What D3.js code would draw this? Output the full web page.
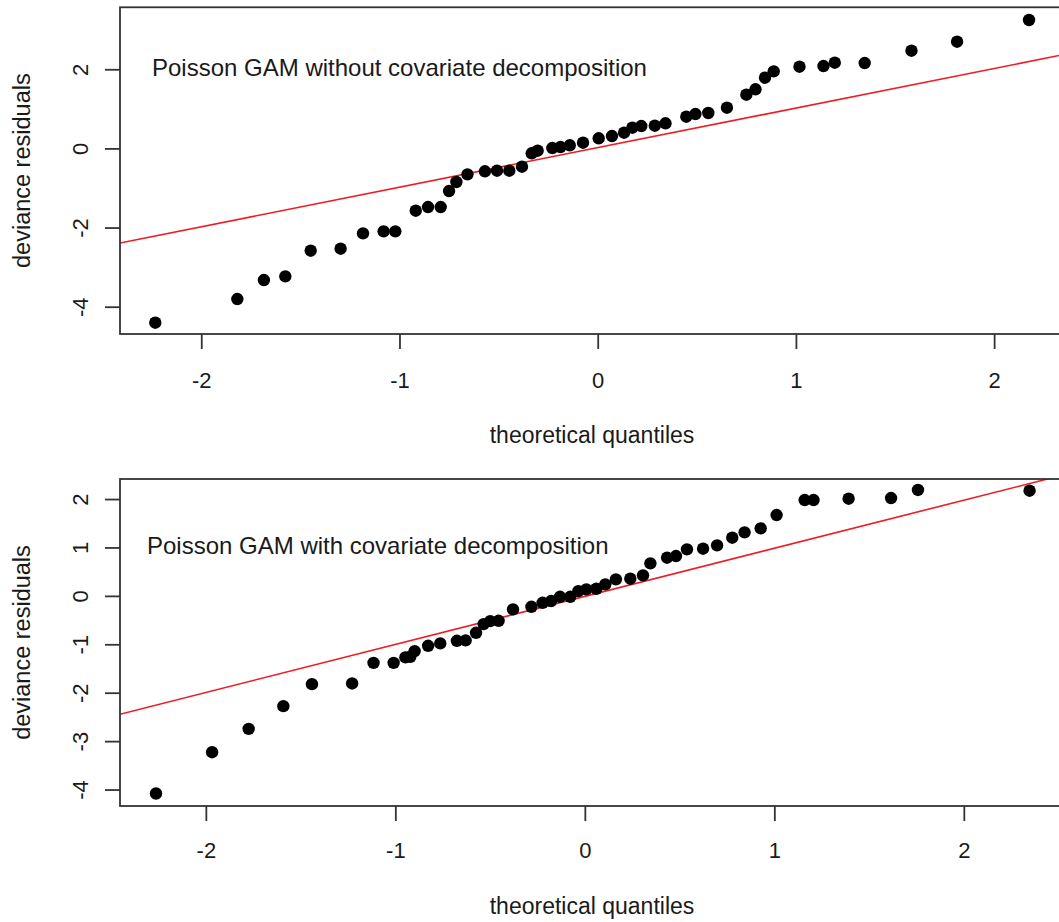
<!DOCTYPE html>
<html>
<head>
<meta charset="utf-8">
<script src="https://cdn.jsdelivr.net/npm/d3@7"></script>
<style>
  html, body { margin: 0; padding: 0; background: #fff; }
  svg { display: block; }
  text { font-family: "Liberation Sans", Arial, Helvetica, sans-serif; fill: #1a1a1a; }
</style>
</head>
<body>
<svg id="chart" width="1059" height="922"></svg>
<script>
// Normal Q-Q plots of deviance residuals for two Poisson GAM fits.

// Panel 1: without covariate decomposition
const topTheoretical = [
  -2.232, -1.818, -1.684, -1.576, -1.448, -1.297, -1.184, -1.080, -1.021, -0.918,
  -0.856, -0.792, -0.750, -0.713, -0.657, -0.569, -0.508, -0.446, -0.382, -0.333,
  -0.303, -0.229, -0.188, -0.141, -0.074, 0.005, 0.072, 0.133, 0.175, 0.220,
  0.288, 0.342, 0.447, 0.493, 0.558, 0.652, 0.750, 0.796, 0.844, 0.888,
  1.018, 1.139, 1.196, 1.347, 1.583, 1.813, 2.176
];
const topResiduals = [
  -4.405, -3.806, -3.326, -3.233, -2.585, -2.534, -2.146, -2.096, -2.096, -1.574,
  -1.481, -1.481, -1.077, -0.849, -0.655, -0.579, -0.564, -0.564, -0.462, -0.124,
  -0.058, 0.010, 0.035, 0.078, 0.144, 0.255, 0.313, 0.397, 0.523, 0.566,
  0.574, 0.634, 0.801, 0.869, 0.895, 1.029, 1.357, 1.494, 1.787, 1.948,
  2.065, 2.082, 2.166, 2.158, 2.469, 2.697, 3.245
];

// Panel 2: with covariate decomposition
const bottomTheoretical = [
  -2.263, -1.967, -1.774, -1.591, -1.440, -1.228, -1.115, -1.009, -0.947, -0.921,
  -0.898, -0.827, -0.763, -0.675, -0.629, -0.574, -0.534, -0.499, -0.455, -0.379,
  -0.282, -0.223, -0.178, -0.131, -0.077, -0.034, 0.008, 0.061, 0.108, 0.164,
  0.240, 0.307, 0.346, 0.434, 0.481, 0.539, 0.624, 0.698, 0.778, 0.843,
  0.928, 1.012, 1.160, 1.207, 1.392, 1.616, 1.758, 2.347
];
const bottomResiduals = [
  -4.082, -3.229, -2.747, -2.278, -1.823, -1.809, -1.383, -1.383, -1.271, -1.258,
  -1.141, -1.031, -0.982, -0.928, -0.920, -0.763, -0.583, -0.521, -0.515, -0.279,
  -0.225, -0.143, -0.107, -0.019, -0.019, 0.099, 0.134, 0.147, 0.238, 0.341,
  0.354, 0.424, 0.672, 0.788, 0.823, 0.961, 0.974, 1.044, 1.201, 1.312,
  1.395, 1.670, 1.980, 1.980, 2.007, 2.021, 2.187, 2.172
];

// Reference lines (intercept, slope)
const topLine = [0.02, 1.0];
const bottomLine = [-0.01, 0.993];

// Tick values and labels
const xTicks = [-2, -1, 0, 1, 2];
const topYTicks = [-4, -2, 0, 2];
const bottomYTicks = [-4, -3, -2, -1, 0, 1, 2];

const panelTitles = [
  "Poisson GAM without covariate decomposition",
  "Poisson GAM with covariate decomposition"
];
const xAxisTitle = "theoretical quantiles";
const yAxisTitle = "deviance residuals";

const svg = d3.select("#chart");

const panels = [
  {
    xs: topTheoretical, ys: topResiduals, line: topLine, yTicks: topYTicks, title: panelTitles[0],
    xDomain: [-2.41, 2.413], yDomain: [-4.69, 3.566],
    left: 120, right: 1076, top: 7.3, bottom: 334,
    tickLabelBase: 54, axisTitleY: 443, titleX: 152, titleY: 76
  },
  {
    xs: bottomTheoretical, ys: bottomResiduals, line: bottomLine, yTicks: bottomYTicks, title: panelTitles[1],
    xDomain: [-2.453, 2.592], yDomain: [-4.34, 2.414],
    left: 120, right: 1076, top: 479, bottom: 806,
    tickLabelBase: 52, axisTitleY: 914, titleX: 147, titleY: 554
  }
];

panels.forEach((p, i) => {
  const x = d3.scaleLinear().domain(p.xDomain).range([p.left, p.right]);
  const y = d3.scaleLinear().domain(p.yDomain).range([p.bottom, p.top]);
  const g = svg.append("g");

  const clipId = "clip-" + i;
  g.append("clipPath").attr("id", clipId)
    .append("rect")
    .attr("x", p.left).attr("y", p.top)
    .attr("width", p.right - p.left).attr("height", p.bottom - p.top);

  // Reference line through the quartiles
  const [a, b] = p.line;
  g.append("line")
    .attr("clip-path", `url(#${clipId})`)
    .attr("x1", x(p.xDomain[0])).attr("y1", y(a + b * p.xDomain[0]))
    .attr("x2", x(p.xDomain[1])).attr("y2", y(a + b * p.xDomain[1]))
    .attr("stroke", "#ee1c24").attr("stroke-width", 1.6);

  // Sample quantiles
  g.append("g").selectAll("circle")
    .data(d3.zip(p.xs, p.ys))
    .join("circle")
    .attr("cx", d => x(d[0]))
    .attr("cy", d => y(d[1]))
    .attr("r", 6.2)
    .attr("fill", "#000");

  // Plot frame
  g.append("rect")
    .attr("x", p.left).attr("y", p.top)
    .attr("width", p.right - p.left).attr("height", p.bottom - p.top)
    .attr("fill", "none").attr("stroke", "#333").attr("stroke-width", 1.8);

  // Bottom axis
  const xAxis = g.append("g")
    .attr("transform", `translate(0,${p.bottom})`)
    .call(d3.axisBottom(x).tickValues(xTicks).tickSize(15).tickFormat(d3.format("d")));
  xAxis.select(".domain").remove();
  xAxis.selectAll(".tick line").attr("stroke", "#333").attr("stroke-width", 1.8);
  xAxis.selectAll(".tick text")
    .attr("y", p.tickLabelBase).attr("dy", null)
    .style("font-size", "22px").attr("fill", "#1a1a1a")
    .text(d => d < 0 ? "-" + Math.abs(d) : String(d));

  // Left axis with labels parallel to the axis
  const yAxis = g.append("g")
    .attr("transform", `translate(${p.left},0)`)
    .call(d3.axisLeft(y).tickValues(p.yTicks).tickSize(15).tickFormat(d3.format("d")));
  yAxis.select(".domain").remove();
  yAxis.selectAll(".tick line").attr("stroke", "#333").attr("stroke-width", 1.8);
  yAxis.selectAll(".tick text")
    .attr("x", null).attr("dy", null)
    .attr("text-anchor", "middle")
    .attr("transform", "translate(-32,0) rotate(-90)")
    .style("font-size", "22px").attr("fill", "#1a1a1a")
    .text(d => d < 0 ? "-" + Math.abs(d) : String(d));

  // Axis titles
  g.append("text")
    .attr("x", (p.left + p.right) / 2 - 6)
    .attr("y", p.axisTitleY)
    .attr("text-anchor", "middle")
    .style("font-size", "23px")
    .text(xAxisTitle);

  g.append("text")
    .attr("transform", `translate(30,${(p.top + p.bottom) / 2}) rotate(-90)`)
    .attr("text-anchor", "middle")
    .style("font-size", "23.5px")
    .text(yAxisTitle);

  // Panel annotation
  g.append("text")
    .attr("x", p.titleX).attr("y", p.titleY)
    .style("font-size", "24px")
    .text(p.title);
});
</script>
</body>
</html>
